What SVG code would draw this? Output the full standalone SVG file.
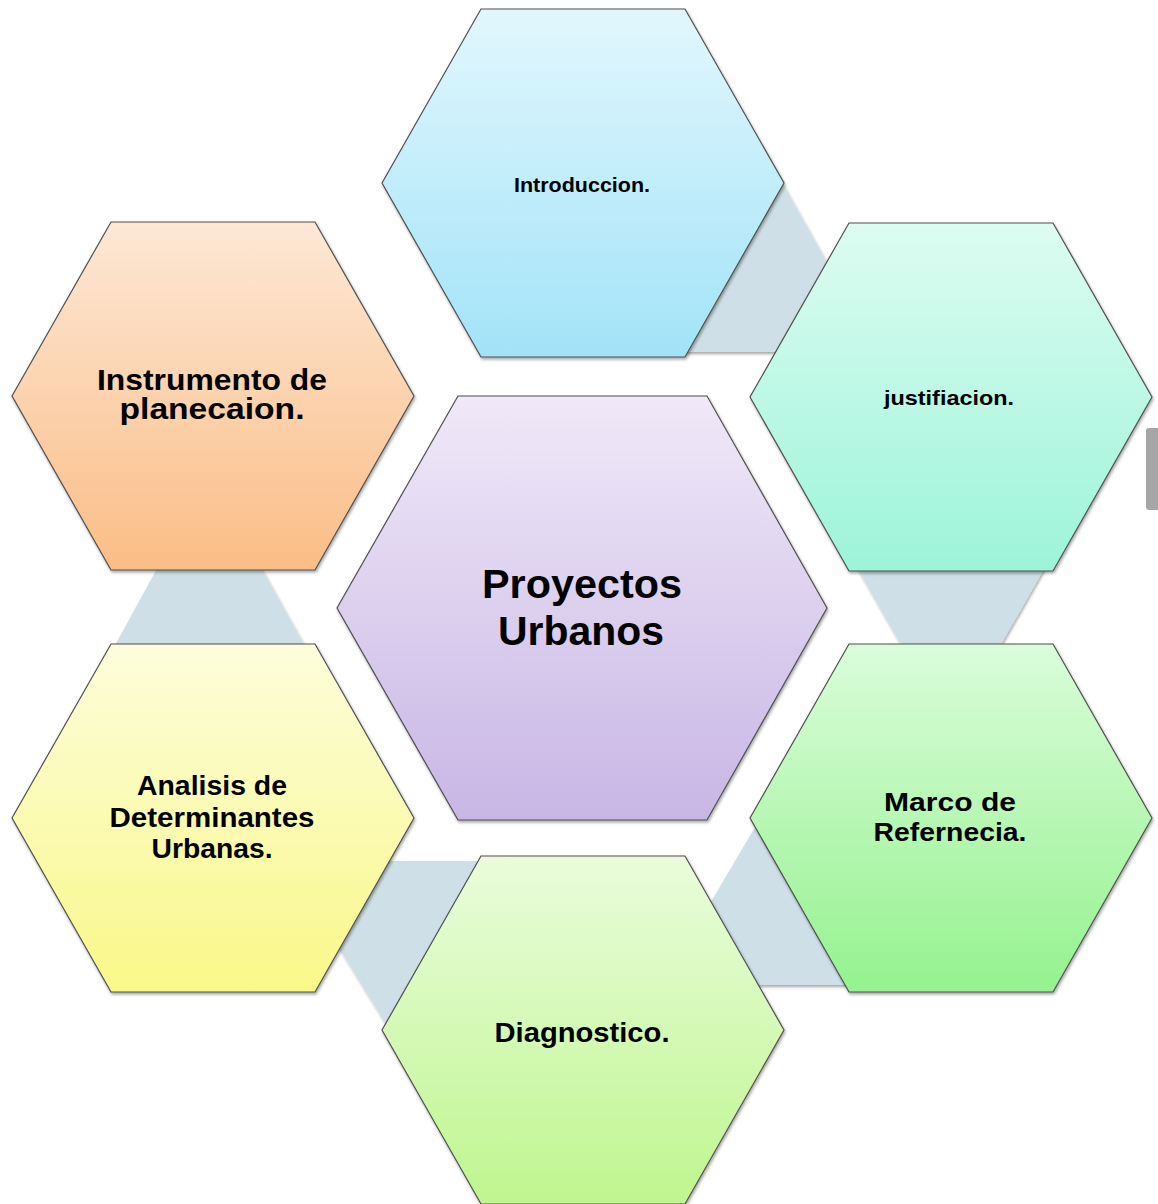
<svg xmlns="http://www.w3.org/2000/svg" width="1158" height="1204" viewBox="0 0 1158 1204">
  <defs>
    <filter id="sh" x="-10%" y="-10%" width="120%" height="120%">
      <feDropShadow dx="1" dy="2" stdDeviation="1.5" flood-color="#000" flood-opacity="0.35"/>
    </filter>
    <linearGradient id="gBlue" x1="0" y1="0" x2="0" y2="1">
      <stop offset="0" stop-color="#E2F7FD"/><stop offset="1" stop-color="#A2E3F8"/>
    </linearGradient>
    <linearGradient id="gTeal" x1="0" y1="0" x2="0" y2="1">
      <stop offset="0" stop-color="#DDFCF2"/><stop offset="1" stop-color="#9CF4D8"/>
    </linearGradient>
    <linearGradient id="gGreen" x1="0" y1="0" x2="0" y2="1">
      <stop offset="0" stop-color="#DAFCDA"/><stop offset="1" stop-color="#95F28F"/>
    </linearGradient>
    <linearGradient id="gLime" x1="0" y1="0" x2="0" y2="1">
      <stop offset="0" stop-color="#EAFCDC"/><stop offset="1" stop-color="#BFF68F"/>
    </linearGradient>
    <linearGradient id="gYellow" x1="0" y1="0" x2="0" y2="1">
      <stop offset="0" stop-color="#FDFDDC"/><stop offset="1" stop-color="#F9F889"/>
    </linearGradient>
    <linearGradient id="gOrange" x1="0" y1="0" x2="0" y2="1">
      <stop offset="0" stop-color="#FDE8D6"/><stop offset="1" stop-color="#FBBD86"/>
    </linearGradient>
    <linearGradient id="gPurple" x1="0" y1="0" x2="0" y2="1">
      <stop offset="0" stop-color="#F0E9F8"/><stop offset="1" stop-color="#C8B6E5"/>
    </linearGradient>
  </defs>
  <style>
    .hex { stroke: #4F4F4F; stroke-width: 1.2; filter: url(#sh); }
    .con { fill: #CEDFE7; filter: url(#sh); }
    .t { font-family: "Liberation Sans", Arial, sans-serif; font-weight: bold; fill: #000; text-anchor: middle; }
  </style>
  <rect width="1158" height="1204" fill="#FFFFFF"/>

  <g id="connectors">
    <polygon class="con" points="783,184 877,352 680,352"/>
    <polygon class="con" points="830,520 1072,520 951,732"/>
    <polygon class="con" points="764,812 860,985 662,985"/>
    <polygon class="con" points="286,861 500,861 393,1035"/>
    <polygon class="con" points="209,474 335,700 85,700"/>
  </g>

  <g id="node-introduccion">
    <polygon class="hex" fill="url(#gBlue)" points="481,9 685,9 784,183 685,357 481,357 382,183"/>
    <text class="t" x="582" y="192" font-size="21" textLength="136" lengthAdjust="spacingAndGlyphs">Introduccion.</text>
  </g>

  <g id="node-justifiacion">
    <polygon class="hex" fill="url(#gTeal)" points="849,223 1053,223 1152,397 1053,571 849,571 750,397"/>
    <text class="t" x="949" y="405" font-size="21" textLength="130" lengthAdjust="spacingAndGlyphs">justifiacion.</text>
  </g>

  <g id="node-instrumento">
    <polygon class="hex" fill="url(#gOrange)" points="111,222 315,222 414,396 315,570 111,570 12,396"/>
    <text class="t" x="212" y="390" font-size="29" textLength="230" lengthAdjust="spacingAndGlyphs">Instrumento de</text>
    <text class="t" x="212" y="419" font-size="29" textLength="185" lengthAdjust="spacingAndGlyphs">planecaion.</text>
  </g>

  <g id="node-analisis">
    <polygon class="hex" fill="url(#gYellow)" points="111,644 315,644 414,818 315,992 111,992 12,818"/>
    <text class="t" x="212" y="795" font-size="27" textLength="150" lengthAdjust="spacingAndGlyphs">Analisis de</text>
    <text class="t" x="212" y="827" font-size="27" textLength="205" lengthAdjust="spacingAndGlyphs">Determinantes</text>
    <text class="t" x="212" y="858" font-size="27" textLength="121" lengthAdjust="spacingAndGlyphs">Urbanas.</text>
  </g>

  <g id="node-marco">
    <polygon class="hex" fill="url(#gGreen)" points="849,644 1053,644 1152,818 1053,992 849,992 750,818"/>
    <text class="t" x="950" y="811" font-size="25" textLength="132" lengthAdjust="spacingAndGlyphs">Marco de</text>
    <text class="t" x="950" y="841" font-size="25" textLength="153" lengthAdjust="spacingAndGlyphs">Refernecia.</text>
  </g>

  <g id="node-diagnostico">
    <polygon class="hex" fill="url(#gLime)" points="481,856 685,856 784,1030 685,1204 481,1204 382,1030"/>
    <text class="t" x="582" y="1042" font-size="28" textLength="175" lengthAdjust="spacingAndGlyphs">Diagnostico.</text>
  </g>

  <g id="node-proyectos">
    <polygon class="hex" fill="url(#gPurple)" points="458,396 707,396 827,608 707,820 458,820 337,608"/>
    <text class="t" x="582" y="598" font-size="41" textLength="200" lengthAdjust="spacingAndGlyphs">Proyectos</text>
    <text class="t" x="581" y="645" font-size="41" textLength="166" lengthAdjust="spacingAndGlyphs">Urbanos</text>
  </g>

  <rect x="1146" y="428" width="20" height="82" rx="3" fill="#A6A6A6"/>
</svg>
